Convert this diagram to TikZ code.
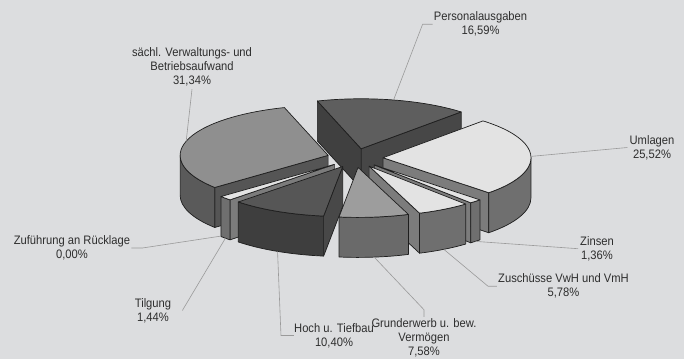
\documentclass[tikz,border=0pt]{standalone}
\usepackage{fontspec}
\setmainfont{Liberation Sans}[FakeStretch=0.91]
\definecolor{bg}{HTML}{DCDDDF}
\definecolor{txt}{HTML}{2E2E2E}
\definecolor{leadc}{HTML}{9A9A9A}
\definecolor{edge}{HTML}{1E1E1E}
\definecolor{perTop}{HTML}{5E5E5E}
\definecolor{perCut}{HTML}{404040}
\definecolor{perCutR}{HTML}{474747}
\definecolor{saTop}{HTML}{8F8F8F}
\definecolor{saSide}{HTML}{5A5A5A}
\definecolor{saCut}{HTML}{555555}
\definecolor{ltTop}{HTML}{E3E3E3}
\definecolor{ltSide}{HTML}{6F6F6F}
\definecolor{ltCut}{HTML}{7C7C7C}
\definecolor{grTop}{HTML}{9D9D9D}
\definecolor{grSide}{HTML}{6A6A6A}
\definecolor{hoTop}{HTML}{565656}
\definecolor{hoSide}{HTML}{3E3E3E}
\definecolor{hoCut}{HTML}{484848}
\def\cx{355}
\def\cy{158}
\def\rx{148}
\def\ry{50}
\def\dd{40}
\def\ex{28}
% #1 a1, #2 a2, #3 b1, #4 b2 (visible outer range), #5 top, #6 outer, #7 cut at a1, #8 cut at a2, #9 name
\newcommand\pieslice[9]{%
  \pgfmathsetmacro\slmid{(#1+#2)/2}%
  \pgfmathsetmacro\ppx{\cx+\ex*cos(\slmid)}%
  \pgfmathsetmacro\ppy{\cy-\ex*\ry/\rx*sin(\slmid)}%
  \coordinate (#9-c) at (\ppx,\ppy);
  \coordinate (#9-m) at ({\ppx+\rx*cos(\slmid)},{\ppy-\ry*sin(\slmid)});
  \coordinate (#9-b) at ({\ppx+\rx*cos(\slmid)},{\ppy-\ry*sin(\slmid)+\dd});
  \pgfmathtruncatemacro\vis{cos(#1)>0}%
  \ifnum\vis=1
    \pgfmathsetmacro\qx{\ppx+\rx*cos(#1)}\pgfmathsetmacro\qy{\ppy-\ry*sin(#1)}%
    \filldraw[pie,fill=#7] (\ppx,\ppy) -- (\qx,\qy) -- (\qx,{\qy+\dd}) -- (\ppx,{\ppy+\dd}) -- cycle;
  \fi
  \pgfmathtruncatemacro\vis{cos(#2)<0}%
  \ifnum\vis=1
    \pgfmathsetmacro\qx{\ppx+\rx*cos(#2)}\pgfmathsetmacro\qy{\ppy-\ry*sin(#2)}%
    \filldraw[pie,fill=#8] (\ppx,\ppy) -- (\qx,\qy) -- (\qx,{\qy+\dd}) -- (\ppx,{\ppy+\dd}) -- cycle;
  \fi
  \pgfmathtruncatemacro\vis{#4>#3}%
  \ifnum\vis=1
    \pgfmathsetmacro\qx{\ppx+\rx*cos(#3)}\pgfmathsetmacro\qy{\ppy-\ry*sin(#3)}%
    \pgfmathsetmacro\sa{-(#3)}\pgfmathsetmacro\sb{-(#4)}%
    \filldraw[pie,fill=#6] (\qx,\qy) arc[start angle=\sa, end angle=\sb, x radius=\rx, y radius=\ry]
      -- ++(0,\dd) arc[start angle=\sb, end angle=\sa, x radius=\rx, y radius=\ry] -- cycle;
  \fi
  \pgfmathsetmacro\qx{\ppx+\rx*cos(#1)}\pgfmathsetmacro\qy{\ppy-\ry*sin(#1)}%
  \pgfmathsetmacro\sa{-(#1)}\pgfmathsetmacro\sb{-(#2)}%
  \filldraw[pie,fill=#5] (\ppx,\ppy) -- (\qx,\qy) arc[start angle=\sa, end angle=\sb, x radius=\rx, y radius=\ry] -- cycle;
}
\begin{document}
\begin{tikzpicture}[x=1pt,y=-1pt,
  pie/.style={draw=edge,line width=0.7pt,line join=round},
  lbl/.style={font=\fontsize{12.3}{13.8}\selectfont,text=txt,align=center,inner sep=0pt},
  leader/.style={draw=leadc,line width=0.6pt}]
\fill[bg] (0,0) rectangle (684,359);
\useasboundingbox (0,0) rectangle (684,359);
% slices, back to front
\pieslice{47.48}{107.2}{0}{0}{perTop}{perCut}{perCutR}{perCut}{per}
\pieslice{107.2}{220}{180}{220}{saTop}{saSide}{saCut}{saCut}{sa}
\pieslice{-44.39}{47.48}{-44.39}{0}{ltTop}{ltSide}{ltCut}{ltCut}{um}
\pieslice{-49.29}{-44.39}{-49.29}{-44.39}{ltTop}{ltSide}{ltCut}{ltCut}{zi}
\pieslice{-140.01}{-134.83}{-140.01}{-134.83}{ltTop}{ltSide}{ltCut}{ltCut}{ti}
\pieslice{-70.10}{-49.29}{-70.10}{-49.29}{ltTop}{ltSide}{ltCut}{ltCut}{zu}
\pieslice{-134.83}{-97.39}{-134.83}{-97.39}{hoTop}{hoSide}{hoCut}{hoCut}{ho}
\pieslice{-97.39}{-70.10}{-97.39}{-70.10}{grTop}{grSide}{grSide}{grSide}{gr}
\coordinate (zf-b) at ({\cx+\ex*cos(-140.01)+\rx*cos(-140.01)},{\cy-\ex*\ry/\rx*sin(-140.01)-\ry*sin(-140.01)+\dd});
% labels
\node[lbl] (Lper) at (480.5,24.2) {Personalausgaben\\16,59\%};
\node[lbl] (Lsa) at (192,67) {sächl. Verwaltungs- und\\Betriebsaufwand\\31,34\%};
\node[lbl] (Lum) at (652,147.5) {Umlagen\\25,52\%};
\node[lbl] (Lzi) at (597,248.7) {Zinsen\\1,36\%};
\node[lbl] (Lzu) at (563.5,286.2) {Zuschüsse VwH und VmH\\5,78\%};
\node[lbl] (Lgr) at (424,338) {Grunderwerb u. bew.\\Vermögen\\7,58\%};
\node[lbl] (Lho) at (334,335.5) {Hoch u. Tiefbau\\10,40\%};
\node[lbl] (Lti) at (153,310.5) {Tilgung\\1,44\%};
\node[lbl] (Lzf) at (72,248) {Zuführung an Rücklage\\0,00\%};
% leaders
\draw[leader] ([xshift=-1pt]Lper.west) -- ++(-10,0) -- (per-m);
\draw[leader] ([yshift=-3pt]Lsa.south) -- (sa-m);
\draw[leader] ([xshift=-2pt]Lum.west) -- (um-m);
\draw[leader] ([xshift=-2pt]Lzi.west) -- (zi-b);
\draw[leader] ([xshift=-1pt]Lzu.west) -- ++(-9,0) -- (zu-b);
\draw[leader] ([yshift=2pt]Lgr.north) -- ++(0,-7) -- (gr-b);
\draw[leader] (Lho.west) -- ++(-13,0) -- (ho-b);
\draw[leader] ([xshift=11pt]Lti.east) -- (ti-b);
\draw[leader] ([xshift=1pt]Lzf.east) -- ++(11,0) -- (zf-b);
\end{tikzpicture}
\end{document}
